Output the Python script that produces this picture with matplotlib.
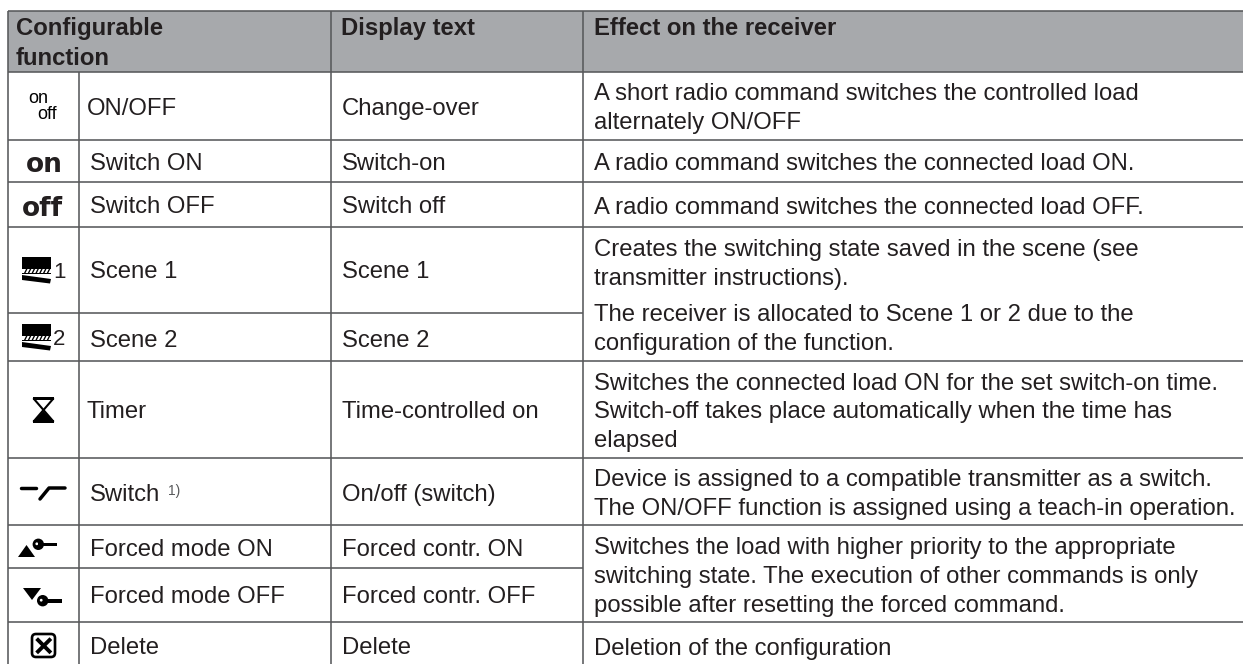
import matplotlib
matplotlib.use('Agg')
import matplotlib.pyplot as plt
from matplotlib.patches import Polygon, Circle, FancyBboxPatch, Rectangle

plt.rcParams['font.family'] = ['Liberation Sans', 'DejaVu Sans']

# table content
header = ['Configurable', 'function', 'Display text', 'Effect on the receiver']
functions = ['ON/OFF', 'Switch ON', 'Switch OFF', 'Scene 1', 'Scene 2', 'Timer',
             'Switch', 'Forced mode ON', 'Forced mode OFF', 'Delete']
display = ['Change-over', 'Switch-on', 'Switch off', 'Scene 1', 'Scene 2',
           'Time-controlled on', 'On/off (switch)', 'Forced contr. ON',
           'Forced contr. OFF', 'Delete']
effects = ['A short radio command switches the controlled load',
           'alternately ON/OFF',
           'A radio command switches the connected load ON.',
           'A radio command switches the connected load OFF.',
           'Creates the switching state saved in the scene (see',
           'transmitter instructions).',
           'The receiver is allocated to Scene 1 or 2 due to the',
           'configuration of the function.',
           'Switches the connected load ON for the set switch-on time.',
           'Switch-off takes place automatically when the time has',
           'elapsed',
           'Device is assigned to a compatible transmitter as a switch.',
           'The ON/OFF function is assigned using a teach-in operation.',
           'Switches the load with higher priority to the appropriate',
           'switching state. The execution of other commands is only',
           'possible after resetting the forced command.',
           'Deletion of the configuration']

# layout in pixels
col_x = [8, 79, 331, 583.5]
row_y = [11, 71.7, 139.7, 182, 227, 313, 361, 457.7, 525.3, 568, 621.8]
fn_x = [87, 90, 90, 90, 90, 87, 90, 90, 90, 90]
fn_base = [115, 170, 213, 278, 347, 418, 501, 556, 603, 654]
effect_base = [100, 129, 170, 214, 256, 285, 321, 350, 390, 418, 447, 486, 515,
               554, 583, 612, 655]
line_col = '#58595b'
text_col = '#231f20'
fs = 17.2

fig = plt.figure(figsize=(12.43, 6.64), dpi=100)
ax = fig.add_axes([0, 0, 1, 1])
ax.set_xlim(0, 1243)
ax.set_ylim(664, 0)
ax.axis('off')


def txt(x, y, s, **kw):
    kw.setdefault('fontsize', fs)
    kw.setdefault('color', text_col)
    kw.setdefault('va', 'baseline')
    ax.text(x, y, s, **kw)


def rule(xs, ys):
    ax.plot(xs, ys, color=line_col, lw=1.15, solid_capstyle='butt')


def scene_icon(x, y):
    ax.add_patch(Rectangle((x, y), 29, 11.5, color='black', lw=0))
    ax.add_patch(Rectangle((x, y + 16), 29, 0.8, color='black', lw=0))
    for i in range(7):
        ax.add_patch(Polygon([[x + 2 + i*3.8, y + 16], [x + 4.5 + i*3.8, y + 11],
                              [x + 6 + i*3.8, y + 11], [x + 3.5 + i*3.8, y + 16]],
                             color='black', lw=0))
    ax.add_patch(Polygon([[x, y + 18], [x + 29, y + 22], [x + 28, y + 26.5], [x, y + 23]],
                         color='black', lw=0))


def hourglass(cx, y):
    ax.add_patch(Rectangle((cx - 10.5, y), 21, 3, color='black', lw=0))
    ax.add_patch(Rectangle((cx - 10.5, y + 23), 21, 3, color='black', lw=0))
    ax.plot([cx - 9.5, cx + 9.5], [y + 2, y + 24], color='black', lw=1.5)
    ax.plot([cx + 9.5, cx - 9.5], [y + 2, y + 24], color='black', lw=1.5)
    ax.add_patch(Polygon([[cx, y + 14], [cx + 9.5, y + 24], [cx - 9.5, y + 24]],
                         color='black', lw=0))


def key(cx, cy, length):
    ax.add_patch(Circle((cx, cy), 5.7, color='black', lw=0))
    ax.add_patch(Circle((cx - 1.5, cy - 0.5), 1.4, color='white', lw=0))
    ax.add_patch(Rectangle((cx, cy - 1.8), length, 3.6, color='black', lw=0))


# header band and rules
ax.add_patch(Rectangle((col_x[0], row_y[0]), 1243 - col_x[0], row_y[1] - row_y[0],
                       color='#a7a9ac', lw=0))
for i, y in enumerate(row_y):
    # the rules inside a merged effect cell stop at its left edge
    rule([col_x[0], col_x[3] if i in (5, 9) else 1243], [y, y])
for x in [col_x[0], col_x[2], col_x[3]]:
    rule([x, x], [row_y[0], 664])
rule([col_x[1], col_x[1]], [row_y[1], 664])

# header text
txt(16, 35, header[0], fontweight='bold')
txt(16, 65, header[1], fontweight='bold')
txt(341, 35, header[2], fontweight='bold')
txt(594, 35, header[3], fontweight='bold')

# body text
for i in range(len(functions)):
    txt(fn_x[i], fn_base[i], functions[i])
    txt(342, fn_base[i], display[i])
txt(168, 495, '1)', fontsize=10, color='#58595b')
for i in range(len(effects)):
    txt(594, effect_base[i], effects[i])

# icon column
txt(38, 103, 'on', fontsize=13, ha='center', color='black')
txt(47.5, 119, 'off', fontsize=13, ha='center', color='black')
txt(44, 172, 'on', fontsize=19, ha='center', fontweight='bold', fontfamily='DejaVu Sans')
txt(42.5, 215.5, 'off', fontsize=19, ha='center', fontweight='bold', fontfamily='DejaVu Sans')
scene_icon(22, 257)
txt(53, 278, '1', fontsize=16)
scene_icon(22, 324)
txt(53, 345, '2', fontsize=16)
hourglass(43.5, 397)
# switch symbol
ax.plot([21, 36], [488, 488], color='black', lw=2.5, solid_capstyle='round')
ax.plot([40, 49, 65], [499, 488, 488], color='black', lw=2.5, solid_capstyle='round',
        solid_joinstyle='round')
# forced on
ax.add_patch(Polygon([[18, 557], [35, 557], [26.5, 545]], color='black', lw=0))
key(38.3, 544.3, 19)
# forced off
ax.add_patch(Polygon([[23, 588], [41, 588], [32, 600]], color='black', lw=0))
key(42.7, 600.7, 19.6)
# delete symbol
ax.add_patch(FancyBboxPatch((32, 634), 23, 23, boxstyle='round,pad=0,rounding_size=4',
                            fc='white', ec='black', lw=1.9))
ax.plot([38, 49.5], [640, 651.5], color='black', lw=2.8)
ax.plot([38, 49.5], [651.5, 640], color='black', lw=2.8)

fig.savefig('out.png', dpi=100)
